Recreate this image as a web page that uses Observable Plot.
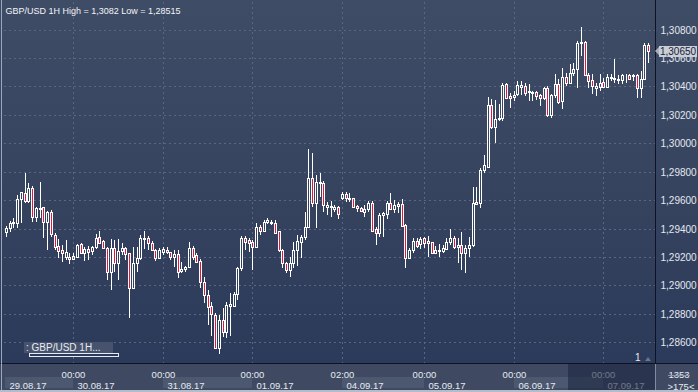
<!DOCTYPE html>
<html><head><meta charset="utf-8">
<script src="https://cdn.jsdelivr.net/npm/d3@7"></script>
<script src="https://cdn.jsdelivr.net/npm/@observablehq/plot@0.6"></script>
<style>
html,body{margin:0;padding:0;background:#2b3750;}
#wrap{position:relative;width:698px;height:392px;overflow:hidden;font-family:"Liberation Sans",Arial,sans-serif;background:#3f4a62;}
#bg{position:absolute;left:0;top:0;width:698px;height:363px;background:linear-gradient(to bottom,#3f4c66 0%,#36445f 50%,#2c3a5b 100%);}
#main,#strip{position:absolute;left:0;width:698px;}
#main{top:0;}
#strip{top:363px;}
#main svg,#strip svg{display:block;}
.line{position:absolute;}
#legend{position:absolute;left:24px;top:342px;width:89px;height:11px;background:#47536c;color:#e8ecf2;font-size:10px;line-height:11px;white-space:pre;padding-left:2px;box-sizing:border-box;}
#legbox{position:absolute;left:29px;top:353px;width:90px;height:4px;border:1px solid #e8ecf2;box-sizing:border-box;}
#one{position:absolute;left:635px;top:352px;color:#e8ecf2;font-size:10px;}
#tri{position:absolute;left:645px;top:357px;width:0;height:0;border-left:3px solid transparent;border-right:3px solid transparent;border-bottom:4px solid #6a7690;}
#tag{position:absolute;left:659px;width:38px;height:11px;background:#c9ced8;color:#1b2233;font-size:10px;line-height:11px;text-align:center;}
#tagarrow{position:absolute;left:655px;width:0;height:0;border-top:4px solid transparent;border-bottom:4px solid transparent;border-right:4px solid #a9b0bc;}
</style></head>
<body>
<div id="wrap">
  <div id="bg"></div>
  <div id="main"></div>
  <div id="strip"></div>
  <div class="line" style="left:655px;top:0;width:1px;height:363px;background:#0d1322"></div>
  <div class="line" style="left:0;top:363px;width:698px;height:1px;background:#0d1322"></div>
  <div class="line" style="left:655px;top:364px;width:1px;height:26px;background:#7f8ba0"></div>
  <div class="line" style="left:1px;top:0;width:1px;height:392px;background:#9aa8bf"></div>
  <div class="line" style="left:0;top:390px;width:698px;height:2px;background:#b3bcca"></div>
  <div class="line" style="left:668px;top:375px;width:22px;height:1px;background:#8a96aa"></div>
  <div id="legend">: GBP/USD 1H...</div>
  <div id="legbox"></div>
  <div id="one">1</div>
  <div id="tri"></div>
  <div id="tagarrow"></div>
  <div id="tag"></div>
</div>
<script>
const title = "GBP/USD 1H High = 1,3082 Low = 1,28515";
const open = [1.29378,1.29401,1.29436,1.29436,1.29605,1.29647,1.29593,1.29683,1.29483,1.29537,1.29549,1.29448,1.29518,1.29354,1.29277,1.29248,1.29202,1.29202,1.29185,1.29202,1.29288,1.29225,1.29255,1.29244,1.29267,1.29338,1.29312,1.29265,1.29091,1.29260,1.29155,1.29244,1.29260,1.29225,1.28979,1.29155,1.29190,1.29326,1.29331,1.29295,1.29248,1.29190,1.29237,1.29248,1.29232,1.29197,1.29218,1.29101,1.29112,1.29126,1.29260,1.29213,1.29171,1.29021,1.28932,1.28857,1.28791,1.28561,1.28756,1.28673,1.28857,1.28857,1.28939,1.29119,1.29331,1.29319,1.29307,1.29267,1.29413,1.29385,1.29448,1.29436,1.29441,1.29382,1.29248,1.29155,1.29108,1.29155,1.29248,1.29302,1.29338,1.29413,1.29753,1.29577,1.29718,1.29718,1.29554,1.29549,1.29535,1.29549,1.29617,1.29640,1.29608,1.29612,1.29558,1.29542,1.29514,1.29537,1.29582,1.29394,1.29366,1.29495,1.29500,1.29577,1.29537,1.29570,1.29570,1.29424,1.29190,1.29248,1.29312,1.29288,1.29331,1.29312,1.29302,1.29230,1.29241,1.29241,1.29255,1.29302,1.29331,1.29272,1.29284,1.29225,1.29260,1.29284,1.29589,1.29577,1.29812,1.29835,1.30269,1.30114,1.30168,1.30180,1.30415,1.30333,1.30328,1.30345,1.30396,1.30403,1.30361,1.30356,1.30361,1.30340,1.30316,1.30391,1.30199,1.30340,1.30415,1.30298,1.30467,1.30427,1.30492,1.30525,1.30708,1.30715,1.30478,1.30443,1.30391,1.30396,1.30431,1.30396,1.30457,1.30450,1.30443,1.30443,1.30478,1.30478,1.30471,1.30478,1.30391,1.30455,1.30692];
const high = [1.29417,1.29453,1.29471,1.29636,1.29660,1.29793,1.29718,1.29699,1.29554,1.29730,1.29554,1.29525,1.29530,1.29366,1.29326,1.29284,1.29319,1.29225,1.29225,1.29291,1.29295,1.29267,1.29277,1.29277,1.29361,1.29382,1.29319,1.29267,1.29324,1.29319,1.29326,1.29295,1.29267,1.29230,1.29267,1.29267,1.29354,1.29385,1.29347,1.29312,1.29253,1.29260,1.29267,1.29267,1.29237,1.29248,1.29248,1.29166,1.29136,1.29307,1.29277,1.29225,1.29183,1.29061,1.28967,1.28885,1.28803,1.28791,1.28838,1.28885,1.28943,1.28955,1.29131,1.29347,1.29347,1.29331,1.29319,1.29441,1.29424,1.29460,1.29471,1.29460,1.29460,1.29385,1.29253,1.29166,1.29202,1.29307,1.29354,1.29354,1.29518,1.29960,1.29931,1.29777,1.29788,1.29737,1.29589,1.29596,1.29565,1.29558,1.29654,1.29659,1.29652,1.29617,1.29565,1.29554,1.29565,1.29593,1.29593,1.29413,1.29507,1.29518,1.29593,1.29652,1.29601,1.29589,1.29608,1.29429,1.29260,1.29331,1.29331,1.29338,1.29342,1.29347,1.29307,1.29277,1.29288,1.29284,1.29331,1.29394,1.29347,1.29331,1.29378,1.29284,1.29342,1.29690,1.29694,1.29823,1.29917,1.30326,1.30309,1.30305,1.30274,1.30427,1.30427,1.30356,1.30368,1.30438,1.30438,1.30427,1.30415,1.30368,1.30368,1.30349,1.30398,1.30403,1.30345,1.30485,1.30450,1.30532,1.30497,1.30556,1.30567,1.30720,1.30820,1.30720,1.30497,1.30490,1.30427,1.30490,1.30462,1.30485,1.30485,1.30591,1.30478,1.30485,1.30490,1.30485,1.30490,1.30485,1.30509,1.30708,1.30708];
const low = [1.29342,1.29378,1.29401,1.29401,1.29436,1.29577,1.29577,1.29443,1.29448,1.29471,1.29331,1.29248,1.29342,1.29248,1.29190,1.29166,1.29178,1.29150,1.29178,1.29197,1.29220,1.29173,1.29178,1.29213,1.29253,1.29295,1.29260,1.29037,1.28967,1.29096,1.29037,1.29213,1.29178,1.28772,1.28975,1.29096,1.29178,1.29253,1.29248,1.29244,1.29171,1.29185,1.29213,1.29220,1.29178,1.29131,1.29049,1.29084,1.29091,1.29119,1.29178,1.29155,1.28979,1.28873,1.28720,1.28645,1.28556,1.28515,1.28638,1.28627,1.28645,1.28849,1.28896,1.29101,1.29248,1.29237,1.29108,1.29260,1.29354,1.29378,1.29432,1.29424,1.29366,1.29237,1.29119,1.29084,1.29061,1.29119,1.29136,1.29190,1.29319,1.29401,1.29554,1.29401,1.29624,1.29518,1.29495,1.29483,1.29518,1.29464,1.29601,1.29589,1.29589,1.29542,1.29518,1.29514,1.29483,1.29514,1.29378,1.29284,1.29342,1.29338,1.29464,1.29530,1.29511,1.29507,1.29413,1.29119,1.29185,1.29225,1.29260,1.29255,1.29260,1.29197,1.29220,1.29225,1.29202,1.29230,1.29248,1.29284,1.29253,1.29155,1.29108,1.29084,1.29202,1.29272,1.29565,1.29542,1.29788,1.29828,1.30098,1.30004,1.30157,1.30157,1.30316,1.30246,1.30298,1.30333,1.30340,1.30333,1.30298,1.30298,1.30305,1.30262,1.30302,1.30185,1.30180,1.30321,1.30274,1.30239,1.30403,1.30415,1.30474,1.30391,1.30614,1.30474,1.30391,1.30345,1.30333,1.30368,1.30391,1.30391,1.30438,1.30427,1.30415,1.30415,1.30427,1.30443,1.30438,1.30321,1.30321,1.30450,1.30567];
const close = [1.29401,1.29436,1.29443,1.29605,1.29654,1.29593,1.29683,1.29483,1.29542,1.29547,1.29448,1.29518,1.29359,1.29267,1.29244,1.29225,1.29232,1.29185,1.29206,1.29284,1.29225,1.29255,1.29237,1.29267,1.29335,1.29300,1.29265,1.29091,1.29265,1.29155,1.29241,1.29260,1.29218,1.28979,1.29155,1.29190,1.29335,1.29335,1.29300,1.29248,1.29190,1.29248,1.29253,1.29232,1.29197,1.29218,1.29096,1.29115,1.29126,1.29260,1.29202,1.29162,1.29021,1.28932,1.28849,1.28795,1.28561,1.28756,1.28673,1.28861,1.28868,1.28939,1.29119,1.29331,1.29307,1.29295,1.29267,1.29408,1.29385,1.29448,1.29460,1.29448,1.29371,1.29248,1.29155,1.29108,1.29155,1.29248,1.29312,1.29338,1.29413,1.29753,1.29577,1.29725,1.29725,1.29565,1.29565,1.29558,1.29554,1.29500,1.29640,1.29612,1.29612,1.29549,1.29542,1.29523,1.29537,1.29577,1.29385,1.29366,1.29495,1.29507,1.29582,1.29537,1.29565,1.29558,1.29417,1.29190,1.29248,1.29312,1.29279,1.29324,1.29295,1.29295,1.29225,1.29248,1.29248,1.29260,1.29307,1.29331,1.29267,1.29284,1.29225,1.29260,1.29284,1.29582,1.29570,1.29812,1.29847,1.30269,1.30114,1.30168,1.30180,1.30410,1.30321,1.30321,1.30340,1.30410,1.30410,1.30356,1.30368,1.30363,1.30333,1.30316,1.30391,1.30199,1.30340,1.30415,1.30293,1.30467,1.30427,1.30497,1.30525,1.30708,1.30715,1.30478,1.30438,1.30403,1.30403,1.30427,1.30398,1.30467,1.30467,1.30457,1.30450,1.30478,1.30481,1.30450,1.30481,1.30391,1.30455,1.30692,1.30650];
const yTicks = [1.286,1.288,1.290,1.292,1.294,1.296,1.298,1.300,1.302,1.304,1.306,1.308];
const timeTickIdx = [18,42,66,90,112,136,160];
const timeTickLabels = ["00:00","00:00","00:00","02:00","00:00","00:00","00:00"];
const dayStart = [-0.2,18,42,66,90,112,136,160];
const dayEnd = [18,42,66,90,112,136,160,173.86];
const dayLabels = ["29.08.17","30.08.17","31.08.17","01.09.17","04.09.17","05.09.17","06.09.17","07.09.17"];
const boxedDays = [0,2,4,6];
const scrollStart = 150.5;
const barsInfo = ["1353", ">175<"];

const candles = open.map((o,i)=>({i, o, h: high[i], l: low[i], c: close[i], up: close[i] >= o}));
const xDomain = [-0.536, 173.86];
const yDomain = [1.28453, 1.30995];
const font = "'Liberation Sans', Arial, sans-serif";
const grid = {stroke:"#5a6782", strokeOpacity:1, strokeDasharray:"2,3", shapeRendering:"crispEdges"};
const crisp = {shapeRendering: "crispEdges"};

const chart = Plot.plot({
  width: 698, height: 363,
  marginLeft: 4, marginRight: 43, marginTop: 2, marginBottom: 0,
  x: {domain: xDomain, axis: null, round: true},
  y: {domain: yDomain, axis: null, round: true},
  style: {background: "transparent", color: "#e3e8f0", fontFamily: font, fontSize: "10px", overflow: "visible"},
  marks: [
    Plot.gridY(yTicks, grid),
    Plot.gridX(timeTickIdx, grid),
    Plot.ruleX(candles, {x: "i", y1: "l", y2: d => Math.min(d.o, d.c), stroke: "#ffffff", ...crisp}),
    Plot.ruleX(candles, {x: "i", y1: d => Math.max(d.o, d.c), y2: "h", stroke: "#ffffff", ...crisp}),
    Plot.rect(candles.filter(d => d.up), {x1: "i", x2: "i", y1: "o", y2: "c", insetLeft: -1, insetRight: -1, fill: "none", stroke: "#ffffff", ...crisp}),
    Plot.rect(candles.filter(d => !d.up), {x1: "i", x2: "i", y1: "o", y2: "c", insetLeft: -1, insetRight: -1, fill: "#e3163d", stroke: "#ffffff", ...crisp}),
    Plot.axisY(yTicks, {anchor: "right", tickSize: 0, tickPadding: 5, fontSize: 10, fill: "#e3e8f0", tickFormat: d => d.toFixed(5).replace(".", ",")}),
    Plot.text([title], {frameAnchor: "top-left", dx: 1, dy: 5, text: d => d, textAnchor: "start", fill: "#f2f4f8", fontSize: 9})
  ]
});
document.getElementById("main").appendChild(chart);

const days = dayLabels.map((label, k) => ({label, start: dayStart[k], end: dayEnd[k]}));
const ticks = timeTickIdx.map((i, k) => ({i, label: timeTickLabels[k]}));
const strip = Plot.plot({
  width: 698, height: 29,
  marginLeft: 4, marginRight: 43, marginTop: 0, marginBottom: 0,
  x: {domain: xDomain, axis: null, round: true},
  style: {background: "transparent", color: "#e3e8f0", fontFamily: font, fontSize: "10px", overflow: "visible"},
  marks: [
    Plot.rect(boxedDays.map(k => days[k]), {x1: "start", x2: "end", insetTop: 14, insetBottom: 4, fill: "#4c586f"}),
    Plot.text(days, {x: "start", text: "label", frameAnchor: "top", dy: 18.5, dx: 4, textAnchor: "start", fill: "#e6eaf1", fontSize: 9.5}),
    Plot.text(ticks, {x: "i", text: "label", frameAnchor: "top", dy: 7.5, fill: "#e6eaf1", fontSize: 9.5}),
    Plot.rect([{x1: scrollStart, x2: xDomain[1]}], {x1: "x1", x2: "x2", fill: "#1d2741", fillOpacity: 0.6}),
    Plot.text([barsInfo[0]], {frameAnchor: "top-right", dx: 13, dy: 7.5, text: d => d, textAnchor: "start", fill: "#e6eaf1", fontSize: 9.5}),
    Plot.text([barsInfo[1]], {frameAnchor: "top-right", dx: 12, dy: 20, text: d => d, textAnchor: "start", fill: "#e6eaf1", fontSize: 9.5})
  ]
});
document.getElementById("strip").appendChild(strip);

const last = close[close.length - 1];
const ty = chart.scale("y").apply(last);
const tag = document.getElementById("tag");
tag.textContent = last.toFixed(5).replace(".", ",");
tag.style.top = (ty - 5.5) + "px";
document.getElementById("tagarrow").style.top = (ty - 4) + "px";
</script>
</body></html>
